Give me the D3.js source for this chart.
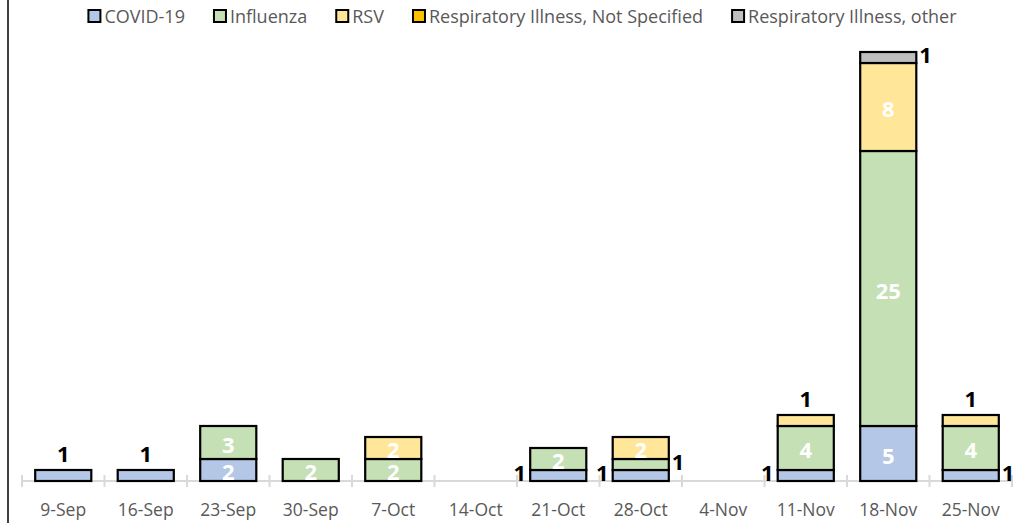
<!DOCTYPE html>
<html>
<head>
<meta charset="utf-8">
<script src="https://cdn.jsdelivr.net/npm/d3@7"></script>
<style>
  body { margin: 0; background: #fff; }
  svg { display: block; font-family: "Open Sans", "Liberation Sans", sans-serif; }
</style>
</head>
<body>
<div id="chart"></div>
<script>
var weeks = ["9-Sep", "16-Sep", "23-Sep", "30-Sep", "7-Oct", "14-Oct", "21-Oct", "28-Oct", "4-Nov", "11-Nov", "18-Nov", "25-Nov"];
var seriesNames = ["COVID-19", "Influenza", "RSV", "Respiratory Illness, Not Specified", "Respiratory Illness, other"];
var covid      = [1, 1, 2, 0, 0, 0, 1, 1, 0, 1, 5, 1];
var influenza  = [0, 0, 3, 2, 2, 0, 2, 1, 0, 4, 25, 4];
var rsv        = [0, 0, 0, 0, 2, 0, 0, 2, 0, 1, 8, 1];
var notSpec    = [0, 0, 0, 0, 0, 0, 0, 0, 0, 0, 0, 0];
var other      = [0, 0, 0, 0, 0, 0, 0, 0, 0, 0, 1, 0];
var colors = ["#b4c7e7", "#c5e0b4", "#ffe699", "#ffc000", "#bfbfbf"];
// where small (value 1) labels sit: "top", "left", "right"
var smallLabelPos = {
  "9-Sep|0": "top", "16-Sep|0": "top", "21-Oct|0": "left", "28-Oct|0": "left",
  "28-Oct|1": "right", "11-Nov|0": "left", "11-Nov|2": "top", "18-Nov|4": "right",
  "25-Nov|0": "right", "25-Nov|2": "top"
};

var W = 1014, H = 523;
var margin = {left: 22, right: 2, top: 52, bottom: 42};
var svg = d3.select("#chart").append("svg").attr("width", W).attr("height", H);

var x = d3.scaleBand().domain(weeks).range([margin.left, W - margin.right]).paddingInner(0.32).paddingOuter(0.16);
var y = d3.scaleLinear().domain([0, 39]).range([H - margin.bottom, margin.top]);

var rows = weeks.map(function(w, i) {
  return {week: w, s0: covid[i], s1: influenza[i], s2: rsv[i], s3: notSpec[i], s4: other[i]};
});
var stack = d3.stack().keys(["s0", "s1", "s2", "s3", "s4"]);
var layers = stack(rows);

// left frame line
svg.append("line").attr("x1", 8).attr("x2", 8).attr("y1", 0).attr("y2", H)
  .attr("stroke", "#000").attr("stroke-width", 1.5);

// axis
var axisY = y(0);
var band = x.step();
svg.append("line").attr("x1", margin.left).attr("x2", W - margin.right)
  .attr("y1", axisY).attr("y2", axisY).attr("stroke", "#d9d9d9").attr("stroke-width", 2);
var tickXs = d3.range(weeks.length + 1).map(function(i) { return margin.left + i * band; });
svg.selectAll(".tick").data(tickXs).enter().append("line")
  .attr("x1", function(d) { return d; }).attr("x2", function(d) { return d; })
  .attr("y1", axisY - 6).attr("y2", axisY + 6).attr("stroke", "#d9d9d9").attr("stroke-width", 2);
svg.selectAll(".xlab").data(weeks).enter().append("text")
  .attr("x", function(d) { return x(d) + x.bandwidth() / 2; })
  .attr("y", axisY + 35).attr("text-anchor", "middle")
  .attr("fill", "#595959").style("font-size", "17.5px").text(function(d) { return d; });

// bars
layers.forEach(function(layer, si) {
  svg.append("g").selectAll("rect").data(layer.filter(function(d) { return d[1] > d[0]; }))
    .enter().append("rect")
    .attr("x", function(d) { return x(d.data.week); })
    .attr("width", x.bandwidth())
    .attr("y", function(d) { return y(d[1]); })
    .attr("height", function(d) { return y(d[0]) - y(d[1]); })
    .attr("fill", colors[si]).attr("stroke", "#000").attr("stroke-width", 2.2);
});

// labels
layers.forEach(function(layer, si) {
  layer.forEach(function(d) {
    var v = d[1] - d[0];
    if (v <= 0) return;
    var cx = x(d.data.week) + x.bandwidth() / 2;
    var cy = (y(d[0]) + y(d[1])) / 2;
    var t = svg.append("text").style("font-size", "22px").style("font-weight", "bold")
      .attr("dominant-baseline", "central").text(v);
    if (v >= 2) {
      t.attr("x", cx).attr("y", cy + 1).attr("text-anchor", "middle").attr("fill", "#fff");
    } else {
      var pos = smallLabelPos[d.data.week + "|" + si] || "top";
      t.attr("fill", "#000");
      if (pos === "top") {
        t.attr("x", cx).attr("y", y(d[1]) - 17).attr("text-anchor", "middle");
      } else if (pos === "left") {
        t.attr("x", x(d.data.week) - 4).attr("y", cy - 4).attr("text-anchor", "end");
      } else {
        t.attr("x", x(d.data.week) + x.bandwidth() + 3).attr("y", cy - 4).attr("text-anchor", "start");
      }
    }
  });
});

// legend
var legend = svg.append("g");
var lx = 0;
seriesNames.forEach(function(name, i) {
  var g = legend.append("g").attr("transform", "translate(" + lx + ",0)");
  g.append("rect").attr("x", 1).attr("y", -6).attr("width", 12).attr("height", 12)
    .attr("fill", colors[i]).attr("stroke", "#000").attr("stroke-width", 2);
  var tx = g.append("text").attr("x", 17).attr("y", 0).attr("dominant-baseline", "central")
    .attr("fill", "#595959").style("font-size", "18px").text(name);
  lx += 17 + tx.node().getComputedTextLength() + 28;
});
var lw = lx - 28;
legend.attr("transform", "translate(" + (522 - lw / 2) + ",16)");
</script>
</body>
</html>
